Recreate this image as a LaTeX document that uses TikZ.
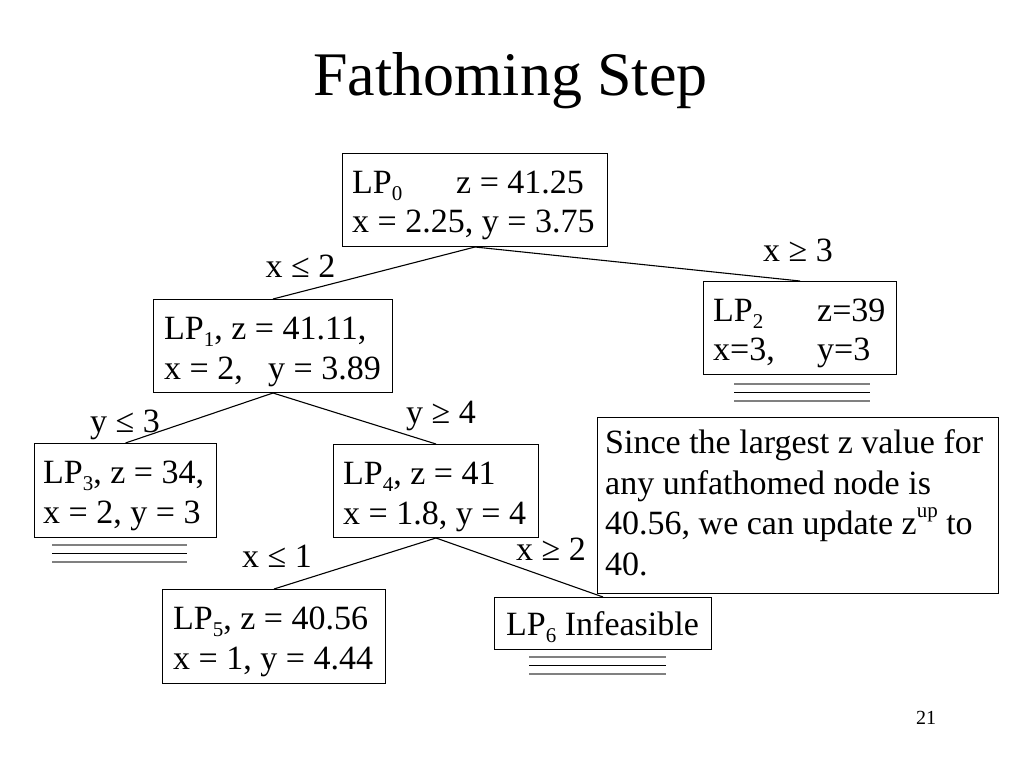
\documentclass[tikz,border=0pt]{standalone}
\usepackage{fontspec}
\setmainfont{Liberation Serif}
\newcommand{\lpsub}[1]{\raisebox{-7pt}{\fontsize{21}{21}\selectfont #1}}
\newcommand{\lpsup}[1]{\raisebox{17pt}{\fontsize{21}{21}\selectfont #1}}
\begin{document}
\begin{tikzpicture}[x=1pt,y=-1pt,
  box/.style={draw, line width=1pt, inner sep=0pt, anchor=north west},
  txt/.style={anchor=base west, inner sep=0pt, font=\fontsize{34}{40}\selectfont},
  lbl/.style={anchor=base, inner sep=0pt, font=\fontsize{34}{40}\selectfont},
  edge/.style={line width=1.1pt},
  fathg/.style={line width=1.4pt, draw=black!50},
  fathk/.style={line width=1.2pt, draw=black}]
\useasboundingbox[fill=white] (0,0) rectangle (1024,768);
% title
\node[anchor=base, inner sep=0pt, font=\fontsize{62}{70}\selectfont] (title) at (510.5,95) {Fathoming Step};
% boxes
\node[box, minimum width=265pt, minimum height=93pt] (b0) at (342,153) {};
\node[box, minimum width=239pt, minimum height=93pt] (b1) at (153,299) {};
\node[box, minimum width=193pt, minimum height=93pt] (b2) at (703,281) {};
\node[box, minimum width=182pt, minimum height=94pt] (b3) at (34,443) {};
\node[box, minimum width=205pt, minimum height=93pt] (b4) at (333,444) {};
\node[box, minimum width=223pt, minimum height=94pt] (b5) at (162,589) {};
\node[box, minimum width=217pt, minimum height=52pt] (b6) at (494,597) {};
\node[box, minimum width=401pt, minimum height=176pt] (note) at (597,417) {};
% box texts
\node[txt] (t0a) at (352,193) {\makebox[104pt][l]{LP\lpsub{0}}z = 41.25};
\node[txt] (t0b) at (352,232) {x = 2.25, y = 3.75};
\node[txt] (t1a) at (164,339) {LP\lpsub{1}, z = 41.11,};
\node[txt] (t1b) at (164,379) {\makebox[104pt][l]{x = 2,}y = 3.89};
\node[txt] (t2a) at (713,321) {\makebox[104pt][l]{LP\lpsub{2}}z=39};
\node[txt] (t2b) at (713,360) {\makebox[104pt][l]{x=3,}y=3};
\node[txt] (t3a) at (43,483) {LP\lpsub{3}, z = 34,};
\node[txt] (t3b) at (43,523) {x = 2, y = 3};
\node[txt] (t4a) at (343,484) {LP\lpsub{4}, z = 41};
\node[txt] (t4b) at (343,524) {x = 1.8, y = 4};
\node[txt] (t5a) at (173,629) {LP\lpsub{5}, z = 40.56};
\node[txt] (t5b) at (173,669) {x = 1, y = 4.44};
\node[txt] (t6) at (506,635) {LP\lpsub{6} Infeasible};
\node[txt] (n1) at (605,453) {Since the largest z value for};
\node[txt] (n2) at (605,494) {any unfathomed node is};
\node[txt] (n3) at (605,534) {40.56, we can update z\lpsup{up} to};
\node[txt] (n4) at (605,575) {40.};
% connectors
\draw[edge] (b0.south) -- (b1.north);
\draw[edge] (b0.south) -- (b2.north);
\draw[edge] (b1.south) -- (b3.north);
\draw[edge] (b1.south) -- (b4.north);
\draw[edge] (b4.south) -- (b5.north);
\draw[edge] (b4.south) -- (b6.north);
% edge labels
\node[lbl] (l01) at (300.5,277) {x ≤ 2};
\node[lbl] (l02) at (798,261) {x ≥ 3};
\node[lbl] (l13) at (125,432) {y ≤ 3};
\node[lbl] (l14) at (441,423) {y ≥ 4};
\node[lbl] (l45) at (277,567) {x ≤ 1};
\node[lbl] (l46) at (551,560) {x ≥ 2};
% fathomed marks
\draw[fathg] (734,384) -- (870,384);
\draw[fathk] (734,392.5) -- (870,392.5);
\draw[fathg] (734,401) -- (870,401);
\draw[fathg] (52,545) -- (187,545);
\draw[fathk] (52,553.5) -- (187,553.5);
\draw[fathg] (52,562) -- (187,562);
\draw[fathg] (529,657) -- (666,657);
\draw[fathk] (529,665.5) -- (666,665.5);
\draw[fathg] (529,674) -- (666,674);
% page number
\node[anchor=base, inner sep=0pt, font=\fontsize{20}{24}\selectfont] (pg) at (926,724) {21};
\end{tikzpicture}
\end{document}
